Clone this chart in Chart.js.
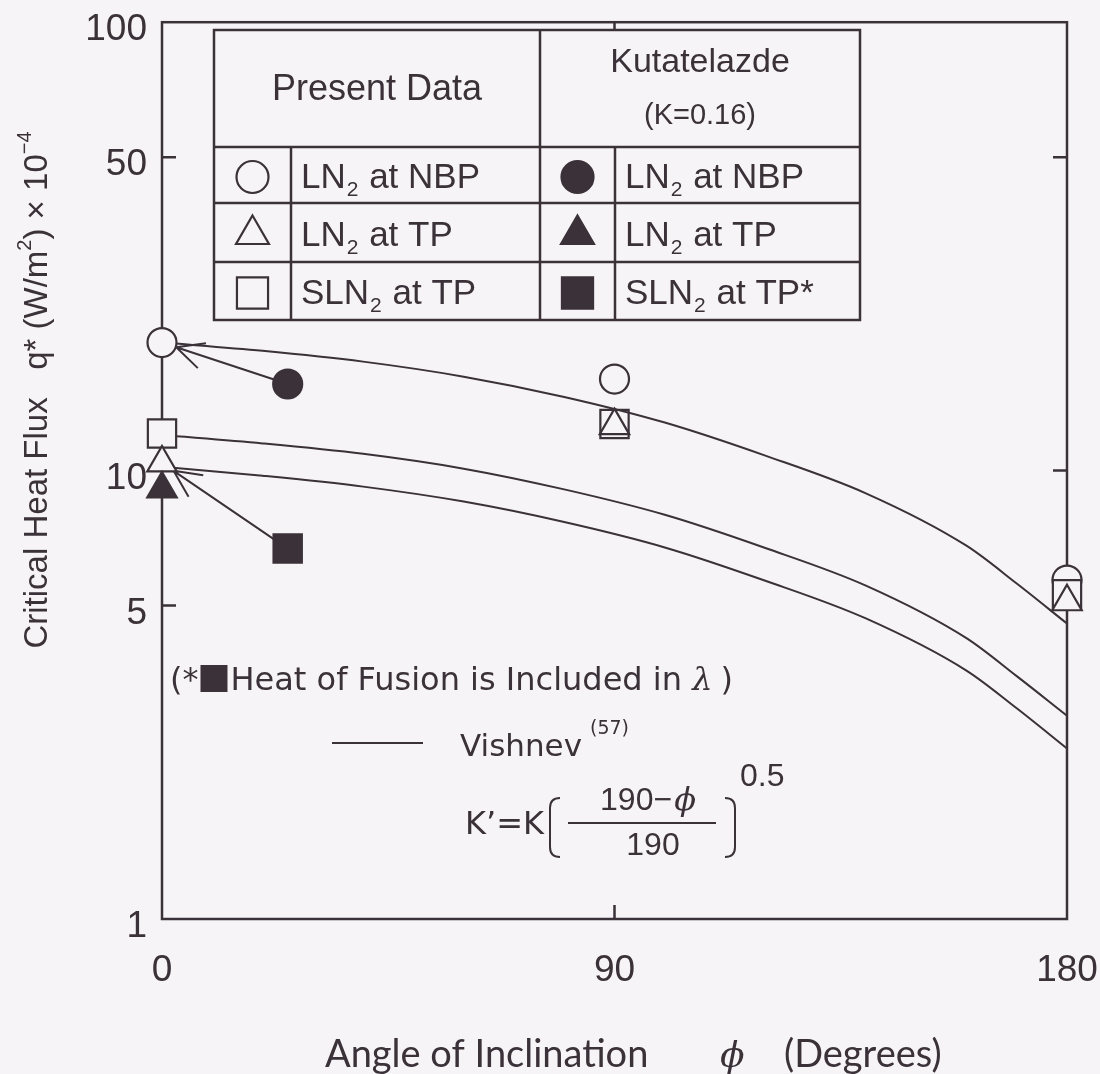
<!DOCTYPE html>
<html>
<head>
<meta charset="utf-8">
<script src="https://cdn.jsdelivr.net/npm/chart.js@4.4.1/dist/chart.umd.min.js"></script>
<style>
  html, body { margin: 0; padding: 0; background: #f7f4f7; }
  #wrap { width: 1100px; height: 1074px; }
</style>
</head>
<body>
<div id="wrap"><canvas id="chart" width="1100" height="1074"></canvas></div>
<script>
const INK = '#3a3139';
const PAPER = '#f7f4f7';

// angle of inclination, degrees
const curveAngles = [0, 20, 40, 60, 80, 100, 120, 140, 160, 170, 180];
// Vishnev correlation curves, q* x 10^-4 (W/m2)
const vishnevUpper = [19.3, 18.5, 17.5, 16.2, 14.6, 12.8, 10.8, 8.9, 6.8, 5.6, 4.56];
const vishnevMiddle = [12.0, 11.5, 10.9, 10.1, 9.08, 7.97, 6.72, 5.54, 4.23, 3.48, 2.84];
const vishnevLower = [10.2, 9.74, 9.21, 8.53, 7.68, 6.74, 5.68, 4.68, 3.58, 2.95, 2.40];

// present data
const dataAngles = [0, 90, 180];
const ln2NbpData = [19.3, 16.0, 5.7];
const ln2TpData = [10.4, 12.6, 5.1];
const sln2TpData = [12.1, 12.7, 5.3];

// Kutatelazde (K=0.16), LN2 NBP / LN2 TP / SLN2 TP*
const kutaAngles = [25, 0, 25];
const kutaValues = [15.6, 9.1, 6.7];

const xTicks = [0, 90, 180];
const yTicks = [1, 5, 10, 50, 100];
const innerTicksY = [5, 10, 50];

const presentLabels = [['LN', '2', ' at NBP'], ['LN', '2', ' at TP'], ['SLN', '2', ' at TP']];
const kutaLabels = [['LN', '2', ' at NBP'], ['LN', '2', ' at TP'], ['SLN', '2', ' at TP*']];

const pts = (xs, ys) => ys.map((y, i) => ({ x: xs[i], y: y }));

const curve = (vals) => ({
    data: pts(curveAngles, vals),
    showLine: true,
    borderColor: INK,
    borderWidth: 2,
    pointRadius: 0,
    cubicInterpolationMode: 'monotone',
    order: 2,
    clip: false
});

const openFill = (c) => (c.raw && c.raw.x === 90 ? 'rgba(0,0,0,0)' : PAPER);

const marker = (data, style, radius, filled, order) => ({
    data: data,
    pointStyle: style,
    pointRadius: radius,
    pointBorderWidth: 2.2,
    pointBorderColor: INK,
    pointBackgroundColor: filled ? INK : openFill,
    showLine: false,
    order: order,
    clip: false
});

const SIZES = { circle: 14.5, triangle: 17, rect: 20 };

// text with a small lowered (or raised) middle part
function drawRich(ctx, parts, x, y, size, family, shift) {
    ctx.textAlign = 'left';
    ctx.textBaseline = 'alphabetic';
    ctx.font = `${size}px ${family}`;
    ctx.fillText(parts[0], x, y);
    x += ctx.measureText(parts[0]).width + 1;
    ctx.font = `${size * 0.6}px ${family}`;
    ctx.fillText(parts[1], x, y + shift);
    x += ctx.measureText(parts[1]).width + 1;
    ctx.font = `${size}px ${family}`;
    ctx.fillText(parts[2] || '', x, y);
}

function arrow(ctx, from, to, back) {
    const dx = to.x - from.x, dy = to.y - from.y;
    const len = Math.hypot(dx, dy);
    const ux = dx / len, uy = dy / len;
    const tx = to.x - ux * back, ty = to.y - uy * back;
    ctx.beginPath();
    ctx.moveTo(from.x, from.y);
    ctx.lineTo(tx, ty);
    const a = Math.atan2(-uy, -ux);
    [0.45, -0.45].forEach(d => {
        ctx.moveTo(tx, ty);
        ctx.lineTo(tx + Math.cos(a + d) * 30, ty + Math.sin(a + d) * 30);
    });
    ctx.stroke();
}

const paperPlugin = {
    id: 'paper',
    beforeDraw(chart) {
        const ctx = chart.ctx;
        ctx.save();
        ctx.fillStyle = PAPER;
        ctx.fillRect(0, 0, chart.width, chart.height);
        ctx.restore();
    }
};

const framePlugin = {
    id: 'frame',
    beforeDatasetsDraw(chart) {
        const { ctx, chartArea: a, scales: { x, y } } = chart;
        ctx.save();
        ctx.strokeStyle = INK;
        ctx.lineWidth = 2.5;
        ctx.strokeRect(a.left, a.top, a.right - a.left, a.bottom - a.top);
        ctx.beginPath();
        innerTicksY.forEach(v => {
            const py = y.getPixelForValue(v);
            ctx.moveTo(a.left, py); ctx.lineTo(a.left + 14, py);
            ctx.moveTo(a.right, py); ctx.lineTo(a.right - 14, py);
        });
        const px = x.getPixelForValue(90);
        ctx.moveTo(px, a.bottom); ctx.lineTo(px, a.bottom - 14);
        ctx.moveTo(px, a.top); ctx.lineTo(px, a.top + 12);
        ctx.stroke();

        // arrows from Kutatelazde predictions to the measured values
        ctx.lineWidth = 2;
        const P = (xv, yv) => ({ x: x.getPixelForValue(xv), y: y.getPixelForValue(yv) });
        arrow(ctx, P(kutaAngles[0], kutaValues[0]), P(dataAngles[0], ln2NbpData[0]), 15);
        arrow(ctx, P(kutaAngles[2], kutaValues[2]), P(dataAngles[0], ln2TpData[0]), 14);
        ctx.restore();
    },
    afterDraw(chart) {
        const ctx = chart.ctx;
        ctx.save();
        ctx.strokeStyle = INK;
        ctx.fillStyle = INK;

        // legend table
        const L = 214, C1 = 291, M = 540, C2 = 615, R = 860;
        const T = 30, H = 147, rows = [147, 203, 262, 320];
        ctx.fillStyle = PAPER;
        ctx.fillRect(L, T, R - L, rows[3] - T);
        ctx.fillStyle = INK;
        ctx.lineWidth = 2.5;
        ctx.strokeRect(L, T, R - L, rows[3] - T);
        ctx.beginPath();
        ctx.moveTo(M, T); ctx.lineTo(M, rows[3]);
        ctx.moveTo(C1, H); ctx.lineTo(C1, rows[3]);
        ctx.moveTo(C2, H); ctx.lineTo(C2, rows[3]);
        rows.slice(0, 3).forEach(r => { ctx.moveTo(L, r); ctx.lineTo(R, r); });
        ctx.stroke();

        const TF = '"Liberation Sans", Arial, sans-serif';
        ctx.textAlign = 'center';
        ctx.textBaseline = 'middle';
        ctx.font = `36px ${TF}`;
        ctx.fillText('Present Data', (L + M) / 2, 90);
        ctx.font = `34px ${TF}`;
        ctx.fillText('Kutatelazde', (M + R) / 2, 63);
        ctx.font = `29px ${TF}`;
        ctx.fillText('(K=0.16)', (M + R) / 2, 116);

        const styles = ['circle', 'triangle', 'rect'];
        const tableSize = { circle: 16, triangle: 19, rect: 22 };
        for (let i = 0; i < 3; i++) {
            const cy = (rows[i] + rows[i + 1]) / 2;
            ctx.lineWidth = 2.2;
            ctx.fillStyle = PAPER;
            Chart.helpers.drawPoint(ctx, { pointStyle: styles[i], radius: tableSize[styles[i]], borderWidth: 2.2, rotation: 0 }, (L + C1) / 2, cy + 2);
            ctx.fillStyle = INK;
            Chart.helpers.drawPoint(ctx, { pointStyle: styles[i], radius: tableSize[styles[i]], borderWidth: 2.2, rotation: 0 }, (M + C2) / 2, cy + 2);
            drawRich(ctx, presentLabels[i], C1 + 10, cy + 13, 35, TF, 8);
            drawRich(ctx, kutaLabels[i], C2 + 10, cy + 13, 35, TF, 8);
        }

        // notes inside the plot
        const NF = '"DejaVu Sans", sans-serif';
        ctx.textAlign = 'left';
        ctx.textBaseline = 'alphabetic';
        ctx.font = `32px ${NF}`;
        let nx = 170;
        const ny = 690;
        ctx.fillText('(*', nx, ny);
        nx += ctx.measureText('(*').width + 2;
        ctx.fillRect(nx, ny - 25, 27, 27);
        nx += 30;
        ctx.fillText('Heat of Fusion is Included in ', nx, ny);
        nx += ctx.measureText('Heat of Fusion is Included in ').width;
        ctx.font = `italic 32px "DejaVu Serif", serif`;
        ctx.fillText('\u03bb', nx, ny);
        nx += ctx.measureText('\u03bb').width + 8;
        ctx.font = `32px ${NF}`;
        ctx.fillText(')', nx, ny);

        ctx.lineWidth = 2;
        ctx.beginPath();
        ctx.moveTo(332, 743); ctx.lineTo(423, 743);
        ctx.stroke();
        ctx.font = `31px ${NF}`;
        ctx.fillText('Vishnev', 460, 756);
        const vw = ctx.measureText('Vishnev').width;
        ctx.font = `19px ${NF}`;
        ctx.fillText('(57)', 460 + vw + 8, 734);

        // K' = K [ (190 - phi) / 190 ]^0.5
        ctx.font = `32px ${NF}`;
        ctx.fillText('K\u2019=K', 465, 834);
        ctx.lineWidth = 2;
        ctx.beginPath();
        ctx.moveTo(560, 798); ctx.quadraticCurveTo(550, 798, 550, 808);
        ctx.lineTo(550, 847); ctx.quadraticCurveTo(550, 857, 560, 857);
        ctx.moveTo(725, 798); ctx.quadraticCurveTo(735, 798, 735, 808);
        ctx.lineTo(735, 847); ctx.quadraticCurveTo(735, 857, 725, 857);
        ctx.moveTo(568, 823); ctx.lineTo(716, 823);
        ctx.stroke();
        const FF = '"Liberation Sans", Arial, sans-serif';
        ctx.font = `32px ${FF}`;
        const numA = '190\u2212';
        const wA = ctx.measureText(numA).width;
        ctx.font = `italic 32px "DejaVu Serif", serif`;
        const wPhiN = ctx.measureText('\u03d5').width;
        let fx = 648 - (wA + wPhiN + 2) / 2;
        ctx.font = `32px ${FF}`;
        ctx.fillText(numA, fx, 810);
        ctx.font = `italic 32px "DejaVu Serif", serif`;
        ctx.fillText('\u03d5', fx + wA + 2, 810);
        ctx.font = `32px ${FF}`;
        ctx.textAlign = 'center';
        ctx.fillText('190', 653, 855);
        ctx.textAlign = 'left';
        ctx.fillText('0.5', 740, 786);

        // axis titles
        const YF = '"Liberation Sans", Arial, sans-serif';
        ctx.save();
        ctx.translate(38, 390);
        ctx.rotate(-Math.PI / 2);
        const yParts = ['Critical Heat Flux   q* (W/m', '2', ') \u00d7 10', '\u22124'];
        let tw = 0;
        yParts.forEach((p, i) => {
            ctx.font = `${i % 2 ? 20 : 33}px ${YF}`;
            tw += ctx.measureText(p).width;
        });
        let tx = -tw / 2;
        ctx.textAlign = 'left';
        ctx.textBaseline = 'middle';
        yParts.forEach((p, i) => {
            ctx.font = `${i % 2 ? 20 : 33}px ${YF}`;
            ctx.fillText(p, tx, i % 2 ? -13 : 0);
            tx += ctx.measureText(p).width;
        });
        ctx.restore();

        const AF = 'Lato, "Liberation Sans", sans-serif';
        ctx.textAlign = 'left';
        ctx.textBaseline = 'alphabetic';
        ctx.font = `38px ${AF}`;
        ctx.fillText('Angle of Inclination', 325, 1067);
        ctx.font = `italic 36px "DejaVu Serif", serif`;
        ctx.fillText('\u03d5', 720, 1067);
        ctx.font = `38px ${AF}`;
        ctx.fillText('(Degrees)', 784, 1067);
        ctx.restore();
    }
};

new Chart(document.getElementById('chart'), {
    type: 'scatter',
    data: {
        datasets: [
            curve(vishnevUpper),
            curve(vishnevMiddle),
            curve(vishnevLower),
            marker(pts(dataAngles, ln2NbpData), 'circle', SIZES.circle, false, 1),
            marker(pts(dataAngles, sln2TpData), 'rect', SIZES.rect, false, 0.8),
            marker(pts(dataAngles, ln2TpData), 'triangle', SIZES.triangle, false, 0.6),
            marker([{ x: kutaAngles[0], y: kutaValues[0] }], 'circle', SIZES.circle, true, 0),
            marker([{ x: kutaAngles[1], y: kutaValues[1] }], 'triangle', SIZES.triangle, true, 0),
            marker([{ x: kutaAngles[2], y: kutaValues[2] }], 'rect', SIZES.rect, true, 0)
        ]
    },
    options: {
        responsive: false,
        animation: false,
        devicePixelRatio: 1,
        layout: { padding: { top: 18, right: 33, left: 0, bottom: 0 } },
        plugins: { legend: { display: false }, tooltip: { enabled: false } },
        scales: {
            x: {
                type: 'linear', min: 0, max: 180,
                afterBuildTicks: s => { s.ticks = xTicks.map(v => ({ value: v })); },
                afterFit: s => { s.height = 155; s.paddingLeft = s.paddingRight = 0; },
                grid: { display: false, drawTicks: false },
                border: { display: false },
                ticks: { color: INK, font: { size: 37, family: '"Liberation Sans", Arial, sans-serif' }, padding: 30, maxRotation: 0 }
            },
            y: {
                type: 'logarithmic', min: 1, max: 100,
                afterBuildTicks: s => { s.ticks = yTicks.map(v => ({ value: v })); },
                afterFit: s => { s.width = 162; s.paddingTop = s.paddingBottom = 0; },
                grid: { display: false, drawTicks: false },
                border: { display: false },
                ticks: { color: INK, font: { size: 37, family: '"Liberation Sans", Arial, sans-serif' }, padding: 15, labelOffset: 8, callback: v => String(v) }
            }
        }
    },
    plugins: [paperPlugin, framePlugin]
});
</script>
</body>
</html>
